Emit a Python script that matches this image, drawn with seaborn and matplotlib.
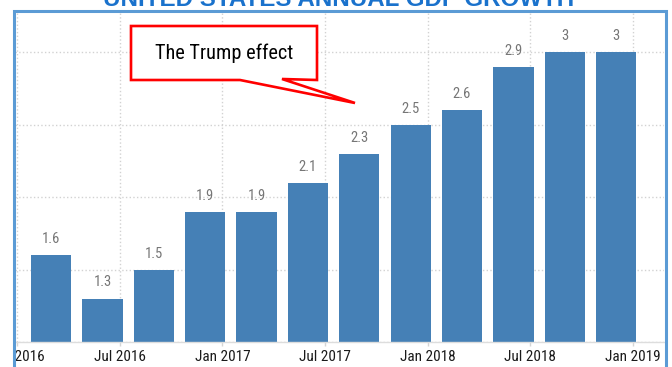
import numpy as np
import pandas as pd
import matplotlib
matplotlib.use("Agg")
import matplotlib.pyplot as plt
import matplotlib.font_manager as fm
import seaborn as sns
from matplotlib.patches import Polygon, Rectangle

# ---- data ----
quarters = ["2016-03", "2016-06", "2016-09", "2016-12",
            "2017-03", "2017-06", "2017-09", "2017-12",
            "2018-03", "2018-06", "2018-09", "2018-12"]
gdp_growth = [1.6, 1.3, 1.5, 1.9, 1.9, 2.1, 2.3, 2.5, 2.6, 2.9, 3.0, 3.0]
value_labels = ["1.6", "1.3", "1.5", "1.9", "1.9", "2.1", "2.3", "2.5", "2.6", "2.9", "3", "3"]
tick_dates = ["2016-01", "2016-07", "2017-01", "2017-07", "2018-01", "2018-07", "2019-01"]
tick_labels = ["Jan 2016", "Jul 2016", "Jan 2017", "Jul 2017", "Jan 2018", "Jul 2018", "Jan 2019"]
title = "UNITED STATES ANNUAL GDP GROWTH"
annotation = "The Trump effect"

W, H = 672, 367


def month_index(s):
    return (pd.Period(s, freq="M") - pd.Period("2016-01", freq="M")).n


df = pd.DataFrame({"month": [month_index(q) for q in quarters], "gdp": gdp_growth})

sns.set_theme(style="white")

names = {f.name for f in fm.fontManager.ttflist}
if "Roboto Condensed" in names:
    COND, SC = "Roboto Condensed", 1.0
elif "Liberation Sans Narrow" in names:
    COND, SC = "Liberation Sans Narrow", 1.0
else:
    COND, SC = "Liberation Sans", 0.84
FAM = [COND, "DejaVu Sans"]
plt.rcParams["font.family"] = FAM

fig = plt.figure(figsize=(W / 100, H / 100), dpi=100)
ax = fig.add_axes([15 / W, 25 / H, 649 / W, 329 / H])

sns.barplot(data=df, x="month", y="gdp", native_scale=True, width=0.785,
            color="#4580B6", saturation=1, errorbar=None, linewidth=0, ax=ax)

ax.bar_label(ax.containers[0], labels=value_labels, padding=6.5,
             color="#767676", fontsize=10.5 * SC, family=FAM)

ax.set_xlim(-0.115, 37.8)
ax.set_ylim(1.0, 3.27)
ax.set_yticks(np.arange(1.0, 3.01, 0.5))
ax.set_yticklabels([])
ax.set_xticks([month_index(t) for t in tick_dates], tick_labels)
ax.set_xlabel("")
ax.set_ylabel("")
ax.grid(True, ls=":", color="#d2d2d2", lw=1)
ax.set_axisbelow(True)
ax.tick_params(axis="y", length=0)
ax.tick_params(axis="x", length=3, width=1, color="#d5d5d5", pad=2.5,
               labelsize=11 * SC, labelcolor="#1a1a1a", bottom=True)
for s in ["top", "right", "left"]:
    ax.spines[s].set_visible(False)
ax.spines["bottom"].set_color("#dddddd")
ax.spines["bottom"].set_linewidth(1)


def fx(x):
    return x / W


def fy(y):
    return 1 - y / H


# white masks outside the screenshot frame
for (x0, y0, w, h) in [(0, 0, 12, H), (668, 0, W - 668, H), (0, 0, W, 10)]:
    fig.add_artist(Rectangle((fx(x0), fy(y0 + h)), w / W, h / H, transform=fig.transFigure,
                             facecolor="white", edgecolor="none", zorder=15))

# blue frame
fig.add_artist(Rectangle((fx(13.5), -0.1), (666 - 13.5) / W, fy(11) + 0.1,
                         transform=fig.transFigure, facecolor="none",
                         edgecolor="#5B9BD5", lw=2.2, zorder=20))

# clipped title
fig.text(fx(339), fy(6.5), title, ha="center", va="baseline", fontsize=17.4,
         weight="bold", color="#1A72CC", family=["Liberation Sans", "DejaVu Sans"], zorder=25)

# callout
pts = [(131, 26), (317, 26), (317, 80), (282, 79), (355, 103), (240, 80), (131, 80)]
fig.add_artist(Polygon([(fx(x), fy(y)) for x, y in pts], closed=True,
                       transform=fig.transFigure, facecolor="white",
                       edgecolor="#FF0000", lw=1.9, joinstyle="miter", zorder=10))
fig.text(fx(224), fy(53), annotation, ha="center", va="center", fontsize=14.6 * SC,
         family=FAM, color="black", zorder=11)

fig.savefig("out.png", dpi=100)
